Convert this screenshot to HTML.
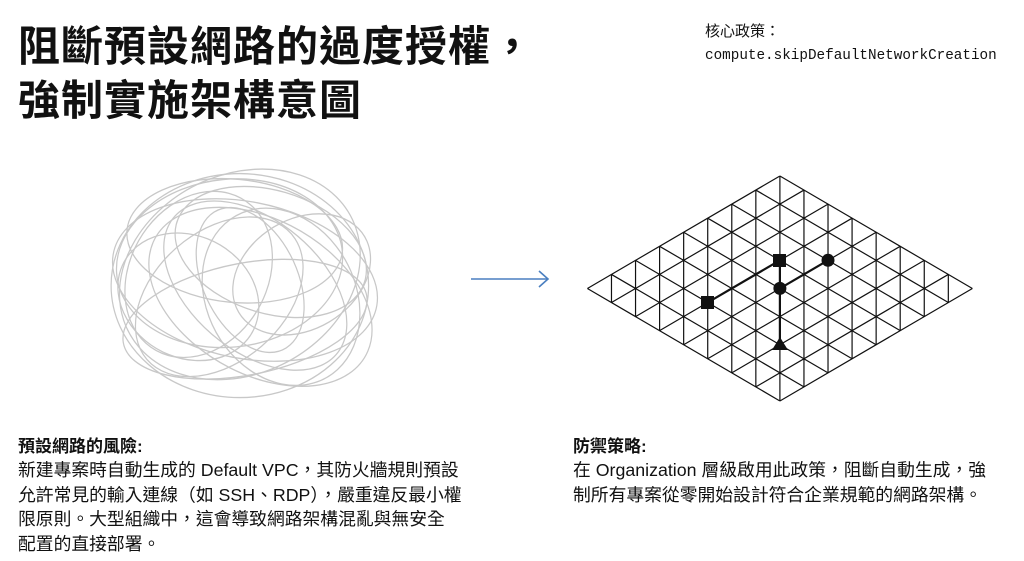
<!DOCTYPE html>
<html><head><meta charset="utf-8"><style>
body{margin:0;width:1024px;height:561px;background:#fff;overflow:hidden;position:relative;font-family:"Liberation Sans","Noto Sans CJK TC",sans-serif;color:#111}
.t{position:absolute;left:18px;top:20px;font-size:42px;font-weight:bold;line-height:54px;letter-spacing:1px}
.p{position:absolute;left:705px;top:20px;font-size:15px;line-height:23px}
.p .m{font-family:"Liberation Mono",monospace;font-size:14.3px}
.h{position:absolute;font-size:17px;font-weight:bold}
.b{position:absolute;font-size:17.8px;line-height:24.5px}
</style></head><body>
<div class="t">阻斷預設網路的過度授權，<br>強制實施架構意圖</div>
<div class="p">核心政策：<br><span class="m">compute.skipDefaultNetworkCreation</span></div>
<svg width="1024" height="561" style="position:absolute;left:0;top:0">
<g fill="none" stroke="#c8c8c8" stroke-width="1.2" transform="translate(245 280) scale(1.03 1.12) translate(-245 -285)">
<ellipse cx="245" cy="285" rx="130" ry="70" transform="rotate(10 245 285)"/>
<ellipse cx="240" cy="280" rx="120" ry="90" transform="rotate(-20 240 280)"/>
<ellipse cx="255" cy="290" rx="100" ry="60" transform="rotate(35 255 290)"/>
<ellipse cx="230" cy="270" rx="110" ry="75" transform="rotate(-5 230 270)"/>
<ellipse cx="260" cy="300" rx="115" ry="70" transform="rotate(25 260 300)"/>
<ellipse cx="220" cy="300" rx="90" ry="60" transform="rotate(-35 220 300)"/>
<ellipse cx="270" cy="260" rx="95" ry="55" transform="rotate(15 270 260)"/>
<ellipse cx="245" cy="320" rx="120" ry="50" transform="rotate(-10 245 320)"/>
<ellipse cx="235" cy="250" rx="105" ry="55" transform="rotate(5 235 250)"/>
<ellipse cx="280" cy="300" rx="85" ry="70" transform="rotate(50 280 300)"/>
<ellipse cx="200" cy="280" rx="80" ry="65" transform="rotate(-50 200 280)"/>
<ellipse cx="250" cy="285" rx="70" ry="45" transform="rotate(60 250 285)"/>
<ellipse cx="240" cy="290" rx="125" ry="100" transform="rotate(0 240 290)"/>
<ellipse cx="300" cy="280" rx="70" ry="50" transform="rotate(-25 300 280)"/>
<ellipse cx="190" cy="300" rx="70" ry="55" transform="rotate(20 190 300)"/>
</g>
<g stroke="#4a7fc0" stroke-width="1.6" fill="none"><line x1="471" y1="279" x2="548" y2="279"/><polyline points="539,271 548,279 539,287"/></g>
<g id="grid" stroke="#111" stroke-width="1.2" fill="none"></g>
<g stroke="#111" stroke-width="2.2">
<line x1="707.8" y1="302.4" x2="779.9" y2="260.3"/>
<line x1="779.9" y1="260.3" x2="779.9" y2="344.6"/>
<line x1="828" y1="260.3" x2="779.9" y2="288.4"/>
</g>
<g fill="#111">
<rect x="701" y="296" width="13" height="13"/>
<rect x="773" y="254" width="13" height="13"/>
<circle cx="828" cy="260.3" r="6.5"/>
<circle cx="779.9" cy="288.4" r="6.5"/>
<polygon points="779.9,337 772,350 788,350"/>
</g>
</svg>
<script>
var g=document.getElementById('grid'),T=[779.9,176],a=[24.06,14.06],b=[-24.06,14.06],s='';
function P(i,j){return [T[0]+i*a[0]+j*b[0],T[1]+i*a[1]+j*b[1]];}
function L(p,q){s+='<line x1="'+p[0]+'" y1="'+p[1]+'" x2="'+q[0]+'" y2="'+q[1]+'"/>';}
for(var k=0;k<=8;k++){L(P(0,k),P(8,k));L(P(k,0),P(k,8));}
for(var d=-7;d<=7;d++){var i0=Math.max(0,d),j0=i0-d,i1=Math.min(8,8+d),j1=i1-d;L(P(i0,j0),P(i1,j1));}
g.innerHTML=s;
</script>
<div class="h" style="left:18px;top:432px">預設網路的風險:</div>
<div class="b" style="left:18px;top:458px">新建專案時自動生成的 Default VPC，其防火牆規則預設<br>允許常見的輸入連線（如 SSH、RDP），嚴重違反最小權<br>限原則。大型組織中，這會導致網路架構混亂與無安全<br>配置的直接部署。</div>
<div class="h" style="left:573px;top:432px">防禦策略:</div>
<div class="b" style="left:573px;top:458px">在 Organization 層級啟用此政策，阻斷自動生成，強<br>制所有專案從零開始設計符合企業規範的網路架構。</div>
</body></html>
